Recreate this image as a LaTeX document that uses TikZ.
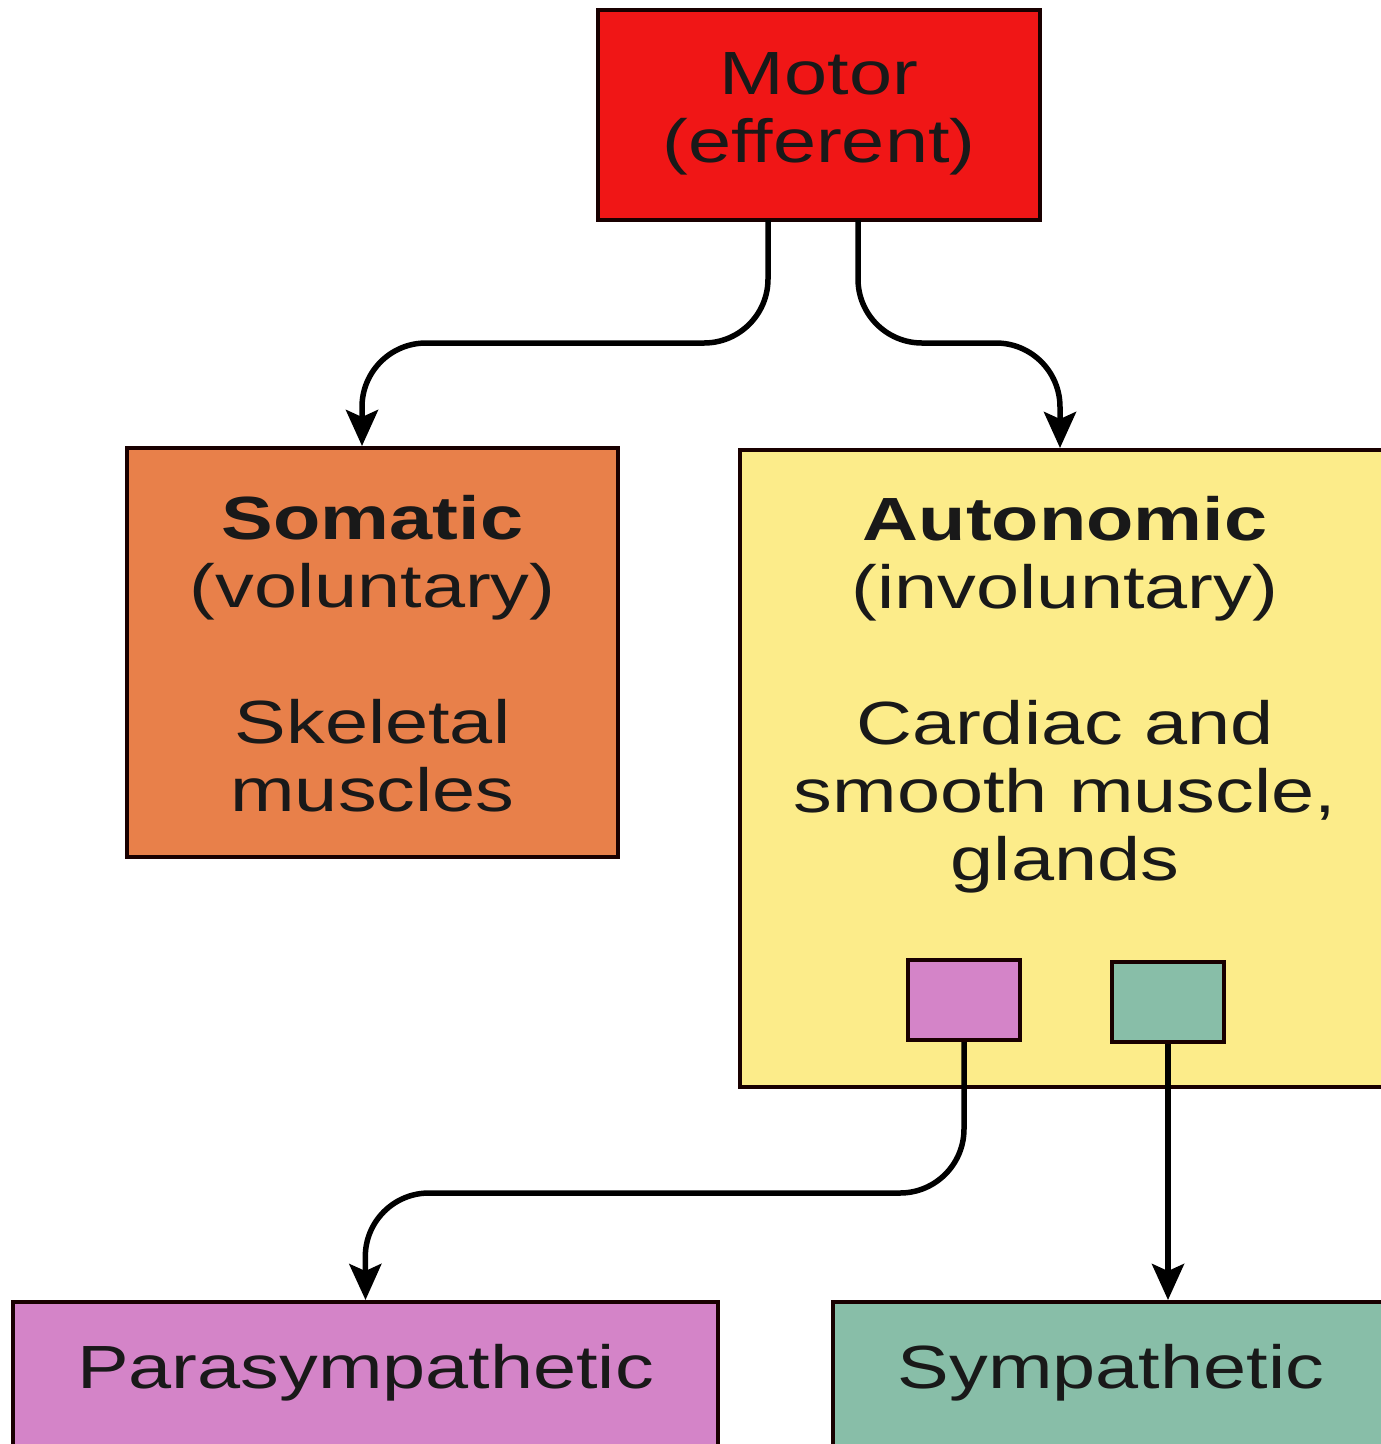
\documentclass[tikz,border=0pt]{standalone}
\usepackage{fontspec}
\setmainfont{Liberation Sans}[FakeStretch=1.27]
\usetikzlibrary{arrows.meta}
\definecolor{motorred}{RGB}{240,22,22}
\definecolor{somorange}{RGB}{232,128,74}
\definecolor{autoyellow}{RGB}{252,236,138}
\definecolor{parapink}{RGB}{212,132,200}
\definecolor{symteal}{RGB}{136,190,168}
\tikzset{
  box/.style={draw=black!90!red, line width=4pt, rectangle, inner sep=0pt},
  lbl/.style={align=center, font=\fontsize{61}{68}\selectfont, text=black!90},
  conn/.style={line width=5.5pt, rounded corners=64pt, -{Stealth[length=36pt,width=32pt,inset=7pt]}}
}
\begin{document}
\begin{tikzpicture}[x=1pt,y=-1pt]
\useasboundingbox (0,0) rectangle (1381,1444);
\clip (0,0) rectangle (1381,1444);
\fill[white] (0,0) rectangle (1381,1444);
% boxes
\node[box, fill=motorred, minimum width=442pt, minimum height=210pt] (motor) at (819,115) {};
\node[lbl] (motort) at (819,114) {Motor\\(efferent)};
\node[box, fill=somorange, minimum width=491pt, minimum height=409pt] (somatic) at (372.5,652.5) {};
\node[lbl, anchor=north] (somatict) at (372.5,492) {\textbf{Somatic}\\(voluntary)\\[68pt]Skeletal\\muscles};
\node[box, fill=autoyellow, minimum width=650pt, minimum height=637pt] (auto) at (1065,768.5) {};
\node[lbl, anchor=north] (autot) at (1065,493) {\textbf{Autonomic}\\(involuntary)\\[68pt]Cardiac and\\smooth muscle,\\glands};
\node[box, fill=parapink, minimum width=112pt, minimum height=80pt] (psq) at (964,1000) {};
\node[box, fill=symteal, minimum width=112pt, minimum height=80pt] (ssq) at (1168,1002) {};
\node[box, fill=parapink, minimum width=705pt, minimum height=160pt] (para) at (365.5,1382) {};
\node[lbl] (parat) at (365.5,1373) {Parasympathetic};
\node[box, fill=symteal, minimum width=557pt, minimum height=160pt] (sym) at (1111.5,1382) {};
\node[lbl] (symt) at (1111,1373) {Sympathetic};
% connectors
\coordinate (m1) at (768,220);
\coordinate (m2) at (858,220);
\draw[conn] (m1) -- (768,343) -- (362,343) -- (somatic.north -| 362,0);
\draw[conn] (m2) -- (858,343) -- (1060,343) -- (auto.north -| 1060,0);
\draw[conn] (psq.south) -- (964,1193) -- (365,1193) -- (para.north);
\draw[conn] (ssq.south) -- (ssq.south |- sym.north);
\end{tikzpicture}
\end{document}
